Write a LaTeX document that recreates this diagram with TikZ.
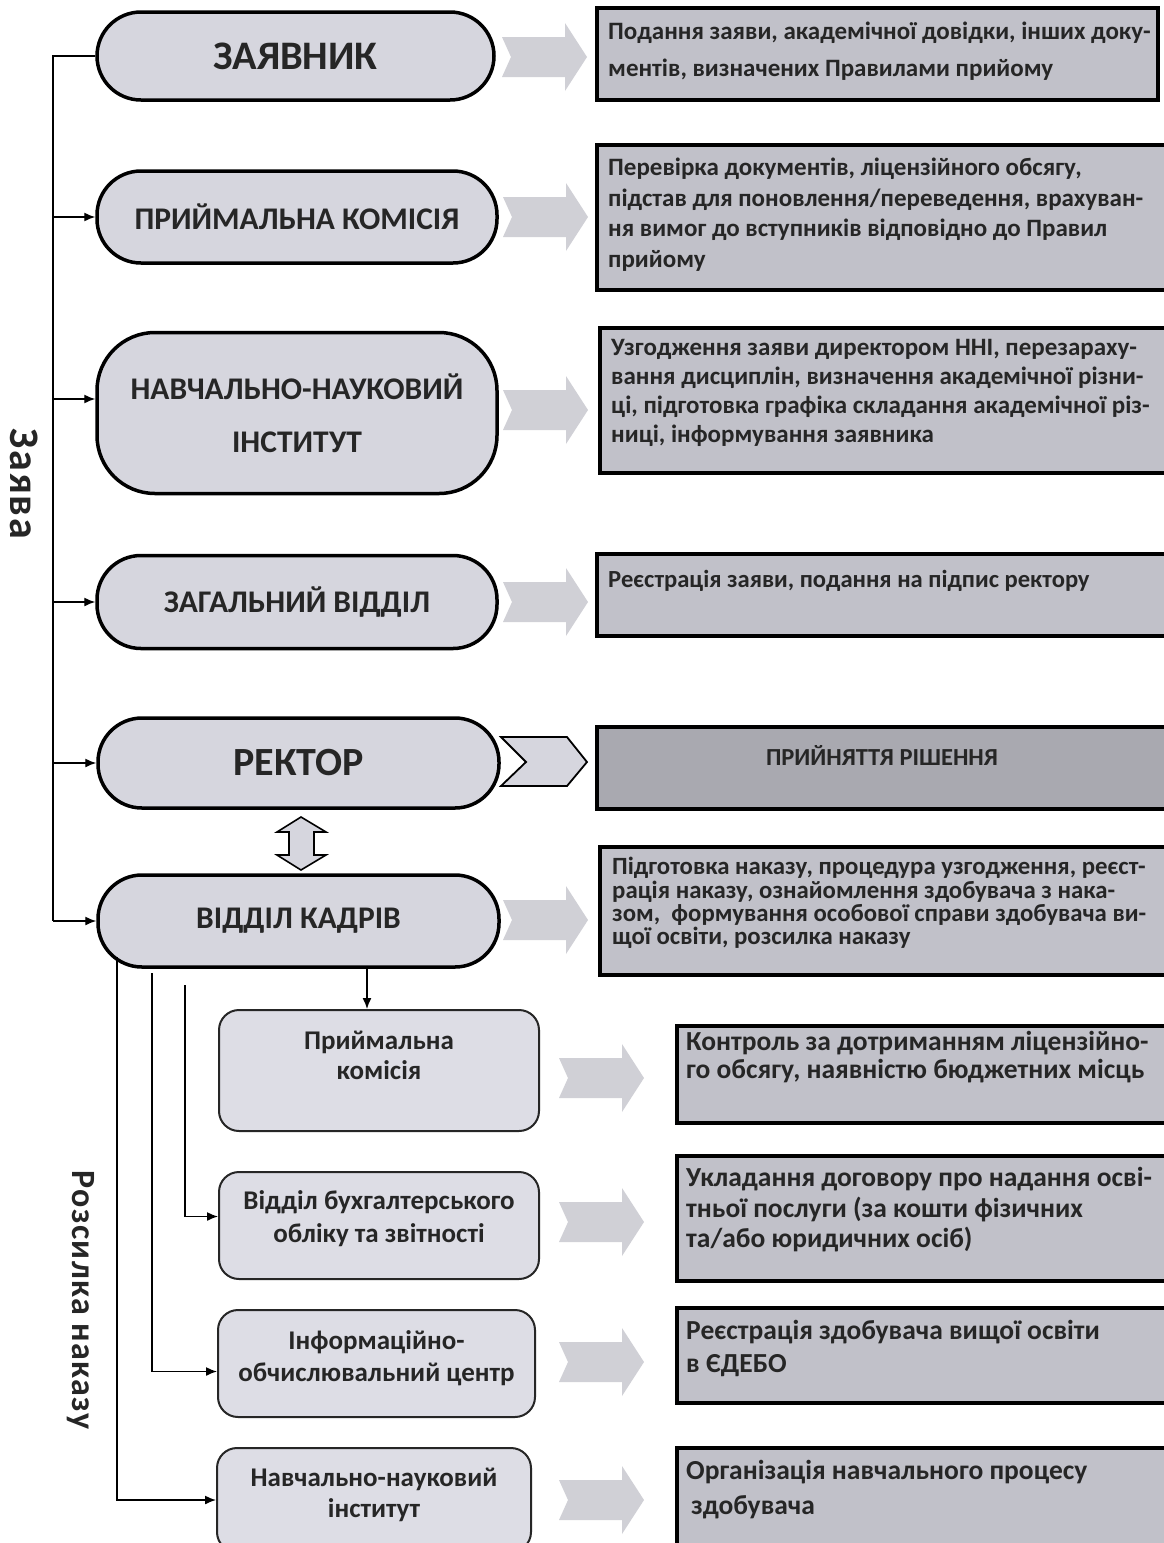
\documentclass[tikz,border=0pt]{standalone}
\usepackage{fontspec}
\setmainfont{Carlito}
\newfontfamily\spacedfont[LetterSpace=4]{Carlito}
\newfontfamily\spacedfontb[LetterSpace=4]{Carlito}
\usetikzlibrary{arrows.meta}
\definecolor{stadfill}{HTML}{D6D6DE}
\definecolor{boxfill}{HTML}{C1C1C9}
\definecolor{darkfill}{HTML}{A9A9B0}
\definecolor{lowfill}{HTML}{DDDDE5}
\definecolor{garrow}{HTML}{D0D0D6}
\definecolor{txt}{HTML}{262626}
\newcommand\myGrayArrow[2]{\fill[garrow] (#1,#2) ++(0,-20) -- ++(63,0) -- ++(0,-14) -- ++(22,34) -- ++(-22,34) -- ++(0,-14) -- ++(-63,0) -- ++(9,-20) -- cycle;}
\begin{document}
\begin{tikzpicture}[x=1pt,y=-1pt,
  stad/.style={draw=black, line width=3.5pt, fill=stadfill, rounded corners=44pt, inner sep=0pt, text=txt, font=\bfseries\fontsize{31.5}{53}\selectfont, align=center},
  rbox/.style={draw=black, line width=4pt, fill=boxfill, inner sep=0pt},
  lbox/.style={draw=black!85, line width=2pt, fill=lowfill, rounded corners=20pt, inner sep=0pt},
  rtext/.style={anchor=north west, inner sep=0pt, align=left, text=txt},
  ltext/.style={inner sep=0pt, align=center, text=txt, font=\bfseries\fontsize{27}{32}\selectfont},
  arr/.style={line width=1.4pt, -{Latex[length=11pt,width=9pt]}},
  ln/.style={line width=1.4pt}]
\fill[white] (0,0) rectangle (1163,1543);
\path[use as bounding box] (0,0) rectangle (1163,1543);

% left stadiums
\node[stad, minimum width=397pt, minimum height=88pt, font=\bfseries\fontsize{40.5}{42}\selectfont] (z1) at (295.5,56) {ЗАЯВНИК};
\node[stad, minimum width=400pt, minimum height=92pt] (z2) at (297,217) {ПРИЙМАЛЬНА КОМІСІЯ};
\node[stad, minimum width=400pt, minimum height=161pt, rounded corners=58pt] (z3) at (297,413) {НАВЧАЛЬНО-НАУКОВИЙ\\ІНСТИТУТ};
\node[stad, minimum width=400pt, minimum height=93pt] (z4) at (297,602) {ЗАГАЛЬНИЙ ВІДДІЛ};
\node[stad, minimum width=401pt, minimum height=90pt, font=\bfseries\fontsize{40}{42}\selectfont] (z5) at (298.5,763) {РЕКТОР};
\node[stad, minimum width=401pt, minimum height=92pt] (z6) at (298.5,921) {ВІДДІЛ КАДРІВ};

% left connector
\coordinate (top) at (53,56);
\coordinate (bot) at (53,921);
\draw[ln] (z1.west) -- (top) -- (bot);
\draw[arr] (z2.west -| top) -- (z2.west);
\draw[arr] ([yshift=14pt]z3.west -| top) -- ([yshift=14pt]z3.west);
\draw[arr] (z4.west -| top) -- (z4.west);
\draw[arr] (z5.west -| top) -- (z5.west);
\draw[arr] (z6.west -| top) -- (z6.west);
\node[rotate=-90, inner sep=0pt, text=txt, font=\spacedfont\bfseries\fontsize{42}{44}\selectfont] (lab1) at (24,484) {Заява};

% right boxes
\node[rbox, minimum width=561pt, minimum height=92pt] (r1) at (877.5,54) {};
\node[rtext, font=\bfseries\fontsize{25}{37}\selectfont] (t1) at (608,22) {Подання заяви, академічної довідки, інших доку-\\ментів, визначених Правилами прийому};
\node[rbox, minimum width=573pt, minimum height=145pt] (r2) at (883.5,217.5) {};
\node[rtext, font=\bfseries\fontsize{25}{30.5}\selectfont] (t2) at (608,158) {Перевірка документів, ліцензійного обсягу,\\підстав для поновлення/переведення, врахуван-\\ня вимог до вступників відповідно до Правил\\прийому};
\node[rbox, minimum width=570pt, minimum height=145pt] (r3) at (885,400.5) {};
\node[rtext, font=\bfseries\fontsize{25}{29}\selectfont] (t3) at (611,339) {Узгодження заяви директором ННІ, перезараху-\\вання дисциплін, визначення академічної різни-\\ці, підготовка графіка складання академічної різ-\\ниці, інформування заявника};
\node[rbox, minimum width=573pt, minimum height=82pt] (r4) at (883.5,595) {};
\node[rtext, font=\bfseries\fontsize{24.6}{29}\selectfont] (t4) at (608,570) {Реєстрація заяви, подання на підпис ректору};
\node[rbox, fill=darkfill, minimum width=573pt, minimum height=82pt] (r5) at (883.5,768) {};
\node[inner sep=0pt, text=txt, font=\bfseries\fontsize{24.5}{26}\selectfont] (t5) at (882,755) {ПРИЙНЯТТЯ РІШЕННЯ};
\node[rbox, minimum width=570pt, minimum height=128pt] (r6) at (885,911) {};
\node[rtext, font=\bfseries\fontsize{24.8}{23.4}\selectfont] (t6) at (612,857) {Підготовка наказу, процедура узгодження, реєст-\\рація наказу, ознайомлення здобувача з нака-\\зом,\ \ формування особової справи здобувача ви-\\щої освіти, розсилка наказу};

% gray arrows top
\myGrayArrow{502}{57}
\myGrayArrow{503}{217}
\myGrayArrow{503}{410}
\myGrayArrow{503}{602}
\myGrayArrow{503}{920}
% chevron for rector
\draw[line width=1.8pt, fill=stadfill] (501,737) -- (567,737) -- (587,762) -- (567,786) -- (501,786) -- (526,762) -- cycle;
% double arrow
\draw[line width=1.6pt, fill=stadfill] (301,817) -- (326,832) -- (314,832) -- (314,855) -- (326,855) -- (301,870) -- (277,855) -- (289,855) -- (289,832) -- (277,832) -- cycle;

% lower left boxes
\node[lbox, minimum width=320pt, minimum height=121pt] (a) at (379,1070.5) {};
\node[ltext, font=\bfseries\fontsize{27}{30}\selectfont] (ta) at (379,1055) {Приймальна\\комісія};
\node[lbox, minimum width=320pt, minimum height=107pt] (b) at (379,1225.5) {};
\node[ltext, font=\bfseries\fontsize{27}{33}\selectfont] (tb) at (379,1219) {Відділ бухгалтерського\\обліку та звітності};
\node[lbox, minimum width=317pt, minimum height=107pt] (c) at (376.5,1363.5) {};
\node[ltext, font=\bfseries\fontsize{27}{32}\selectfont] (tc) at (376.5,1358) {Інформаційно-\\обчислювальний центр};
\node[lbox, minimum width=314pt, minimum height=104pt] (d) at (374,1500) {};
\node[ltext, font=\bfseries\fontsize{27}{31}\selectfont] (td) at (374,1495) {Навчально-науковий\\інститут};

% distribution lines
\coordinate (k1) at (117,957);
\coordinate (k2) at (152,973);
\coordinate (k3) at (185,985);
\draw[arr] (k1) |- (d.west);
\draw[arr] (k2) |- ([yshift=-8pt]c.west);
\draw[arr] (k3) |- ([yshift=9pt]b.west);
\draw[arr] ([xshift=-12pt]a.north |- z6.south) -- ([xshift=-12pt]a.north);
\node[rotate=-90, text=txt, font=\spacedfontb\bfseries\fontsize{34}{36}\selectfont] (lab2) at (81,1300) {Розсилка наказу};

% lower gray arrows
\myGrayArrow{559}{1078}
\myGrayArrow{559}{1222}
\myGrayArrow{559}{1362}
\myGrayArrow{559}{1500}

% lower right boxes
\node[rbox, minimum width=493pt, minimum height=97pt] (r7) at (923.5,1074.5) {};
\node[rtext, font=\bfseries\fontsize{27.5}{27.5}\selectfont] (t7) at (686,1031) {Контроль за дотриманням ліцензійно-\\го обсягу, наявністю бюджетних місць};
\node[rbox, minimum width=493pt, minimum height=125pt] (r8) at (923.5,1218.5) {};
\node[rtext, font=\bfseries\fontsize{27.5}{30.5}\selectfont] (t8) at (686,1167) {Укладання договору про надання осві-\\тньої послуги (за кошти фізичних\\та/або юридичних осіб)};
\node[rbox, minimum width=493pt, minimum height=95pt] (r9) at (923.5,1355.5) {};
\node[rtext, font=\bfseries\fontsize{27.5}{33}\selectfont] (t9) at (686,1320) {Реєстрація здобувача вищої освіти\\в ЄДЕБО};
\node[rbox, minimum width=493pt, minimum height=110pt] (r10) at (923.5,1503) {};
\node[rtext, font=\bfseries\fontsize{27.5}{35}\selectfont] (t10) at (686,1460) {Організація навчального процесу\\\hspace{5pt}здобувача};
\end{tikzpicture}
\end{document}
